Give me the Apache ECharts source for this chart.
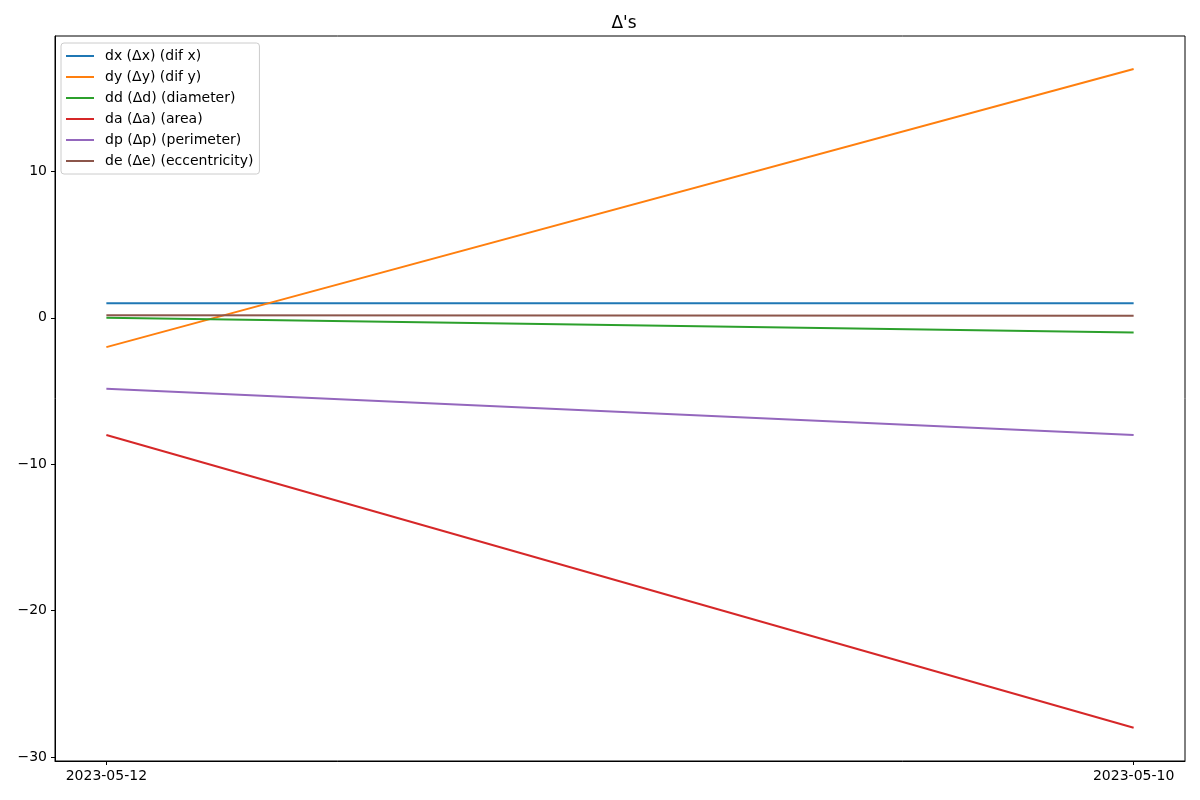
<!DOCTYPE html>
<html><head><meta charset="utf-8">
<script src="https://cdn.jsdelivr.net/npm/echarts@6/dist/echarts.min.js"></script>
<style>html,body{margin:0;padding:0;background:#fff}#c{width:1200px;height:800px}</style>
</head><body><div id="c"></div>
<script>
const categories = ['2023-05-12', '2023-05-10'];
const dx = [1, 1];
const dy = [-2, 17];
const dd = [0, -1];
const da = [-8, -28];
const dp = [-4.85, -8];
const de = [0.18, 0.14];
const seriesNames = ['dx (Δx) (dif x)', 'dy (Δy) (dif y)', 'dd (Δd) (diameter)', 'da (Δa) (area)', 'dp (Δp) (perimeter)', 'de (Δe) (eccentricity)'];
const seriesValues = [dx, dy, dd, da, dp, de];
const colors = ['#1f77b4', '#ff7f0e', '#2ca02c', '#d62728', '#9467bd', '#8c564b'];
const yTicks = [-30, -20, -10, 0, 10];

const font = 'DejaVu Sans';
const chart = echarts.init(document.getElementById('c'));
chart.setOption({
  animation: false,
  title: { text: "Δ's", left: 619, top: 10, textAlign: 'center',
    textStyle: { fontFamily: font, fontSize: 17, fontWeight: 'normal', color: '#000' } },
  grid: { left: 55, right: 15, top: 36, bottom: 39, show: true, borderColor: '#000', borderWidth: 1, backgroundColor: 'transparent' },
  legend: {
    orient: 'vertical', left: 61, top: 43, padding: [6, 6, 6, 5],
    backgroundColor: '#fff', borderColor: '#cccccc', borderWidth: 1, borderRadius: 3,
    itemWidth: 28, itemHeight: 2, itemGap: 7, icon: 'rect',
    textStyle: { fontFamily: font, fontSize: 14, lineHeight: 14, color: '#000', padding: [0, 0, 0, 6] },
    data: seriesNames
  },
  xAxis: {
    type: 'value', min: -0.05, max: 1.05,
    splitLine: { show: false },
    axisLine: { show: true, onZero: false, lineStyle: { color: '#000' } },
    axisTick: { show: true, inside: false, length: 4, lineStyle: { color: '#000' }, customValues: categories.map((c, i) => i) },
    axisLabel: { customValues: categories.map((c, i) => i), formatter: v => categories[Math.round(v)] || '',
      fontFamily: font, fontSize: 14, color: '#000', margin: 8 }
  },
  yAxis: {
    type: 'value', min: -30.27, max: 19.25,
    splitLine: { show: false },
    axisLine: { show: true, onZero: false, lineStyle: { color: '#000' } },
    axisTick: { show: true, inside: false, length: 4, lineStyle: { color: '#000' }, customValues: yTicks },
    axisLabel: { customValues: yTicks, formatter: v => String(v).replace('-', '\u2212'),
      fontFamily: font, fontSize: 14, color: '#000', margin: 8 }
  },
  series: seriesNames.map((n, k) => ({
    name: n, type: 'line', symbol: 'none', showSymbol: false,
    color: colors[k],
    lineStyle: { width: 2, color: colors[k] },
    data: seriesValues[k].map((v, i) => [i, v])
  }))
});
</script></body></html>
